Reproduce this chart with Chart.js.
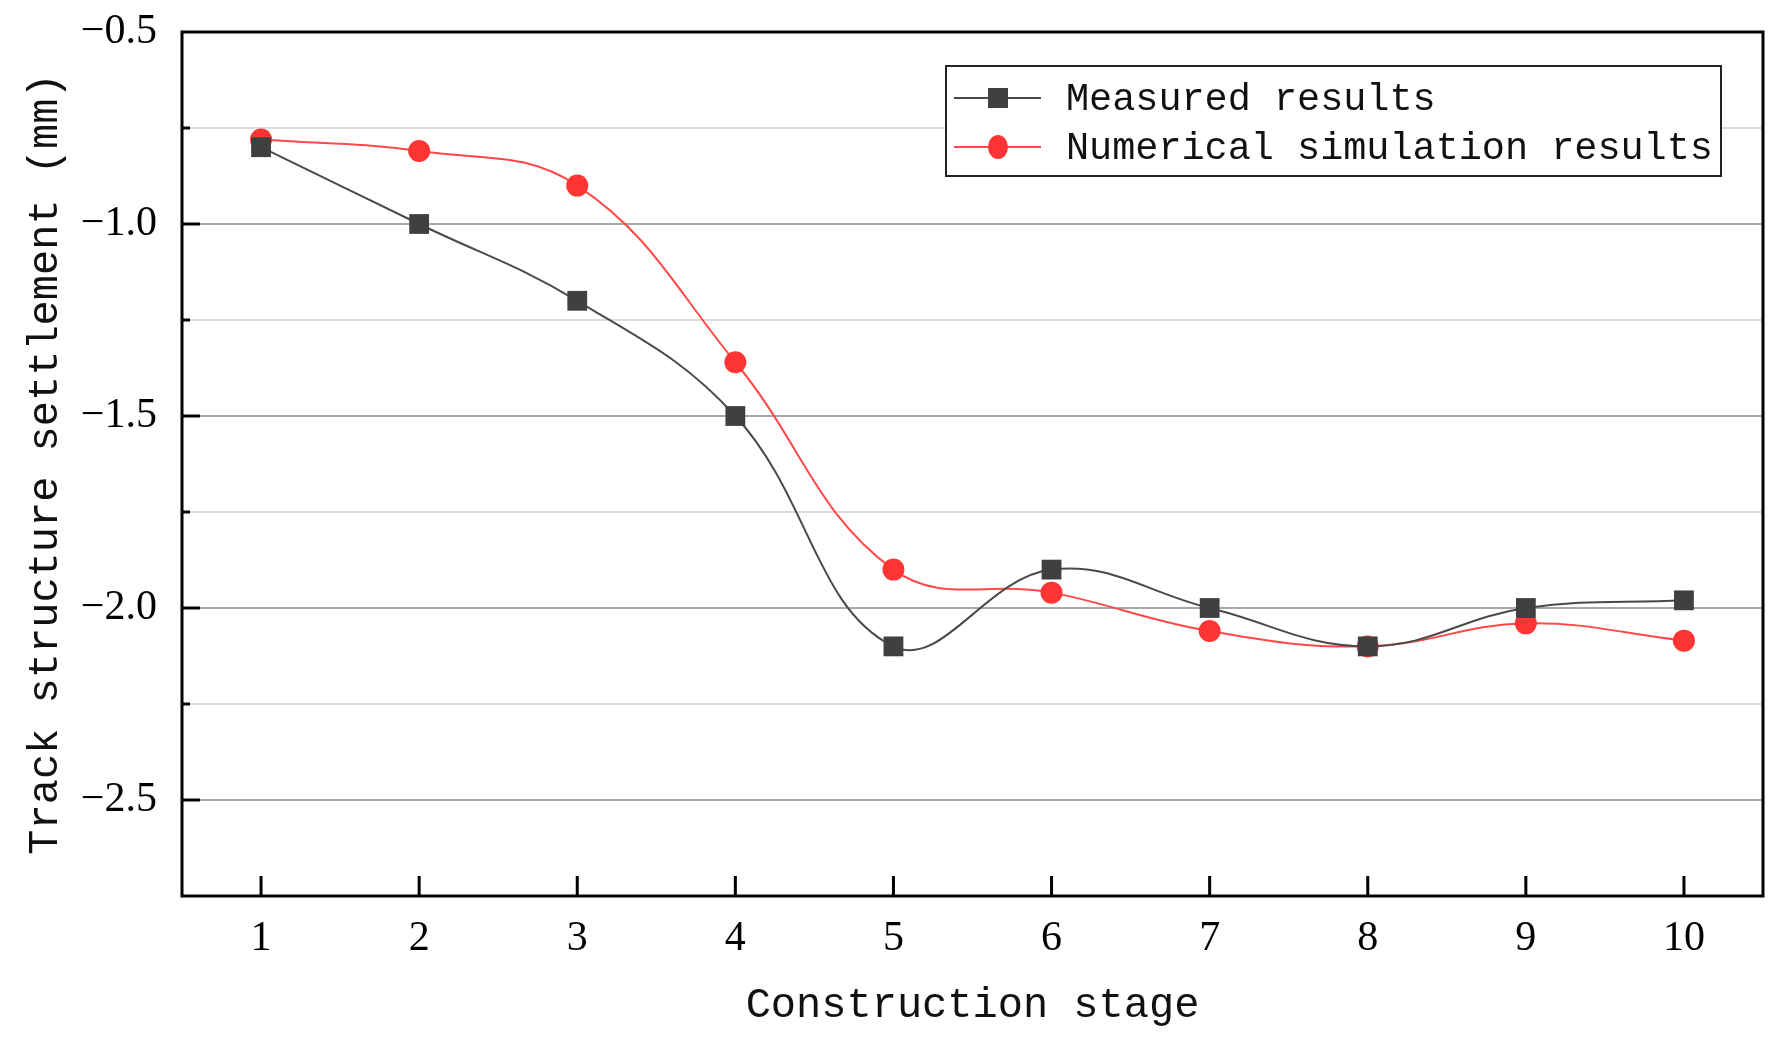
<!DOCTYPE html>
<html><head><meta charset="utf-8">
<script src="https://cdn.jsdelivr.net/npm/chart.js@4.4.0/dist/chart.umd.min.js"></script>
<style>html,body{margin:0;padding:0;background:#fff;} #wrap{width:1784px;height:1045px;}</style>
</head><body><div id="wrap"><canvas id="c" width="1784" height="1045"></canvas></div>
<script>
const stages = [1, 2, 3, 4, 5, 6, 7, 8, 9, 10];
const measured = [-0.80, -1.00, -1.20, -1.50, -2.10, -1.90, -2.00, -2.10, -2.00, -1.98];
const simulated = [-0.78, -0.81, -0.90, -1.36, -1.90, -1.96, -2.06, -2.10, -2.04, -2.085];
const seriesNames = ['Measured results', 'Numerical simulation results'];
const yTickValues = [-2.75, -2.5, -2.25, -2.0, -1.75, -1.5, -1.25, -1.0, -0.75, -0.5];
const yLabelValues = [-2.5, -2.0, -1.5, -1.0, -0.5];
const xTitle = 'Construction stage';
const yTitle = 'Track structure settlement (mm)';

const isLabeled = v => yLabelValues.some(l => Math.abs(l - v) < 1e-9);
const fmt = v => (v < 0 ? '\u2212' : '') + Math.abs(v).toFixed(1);

const overlay = {
  id: 'overlay',
  afterDraw(chart) {
    const ctx = chart.ctx, a = chart.chartArea;
    const xs = chart.scales.x, ys = chart.scales.y;
    ctx.save();
    // inward ticks
    ctx.strokeStyle = '#000'; ctx.lineWidth = 3;
    ctx.beginPath();
    stages.forEach(v => { const px = xs.getPixelForValue(v); ctx.moveTo(px, a.bottom); ctx.lineTo(px, a.bottom - 20); });
    yTickValues.forEach(v => {
      if (v <= ys.min || v >= ys.max) return;
      const py = ys.getPixelForValue(v);
      ctx.moveTo(a.left, py); ctx.lineTo(a.left + (isLabeled(v) ? 18 : 8), py);
    });
    ctx.stroke();
    // frame
    ctx.lineWidth = 3;
    ctx.strokeRect(a.left, a.top, a.right - a.left, a.bottom - a.top);
    // legend
    const bx = 946, by = 66, bw = 775, bh = 110;
    ctx.fillStyle = '#fff'; ctx.fillRect(bx, by, bw, bh);
    ctx.strokeStyle = '#222'; ctx.lineWidth = 2; ctx.strokeRect(bx, by, bw, bh);
    const rows = [98, 147];
    chart.data.datasets.forEach((ds, i) => {
      const y = rows[i];
      ctx.strokeStyle = ds.borderColor; ctx.lineWidth = 2;
      ctx.beginPath(); ctx.moveTo(954, y); ctx.lineTo(1041, y); ctx.stroke();
      ctx.fillStyle = ds.pointBackgroundColor;
      if (ds.pointStyle === 'rect') { ctx.fillRect(998 - 10, y - 10, 20, 20); }
      else { ctx.beginPath(); ctx.ellipse(998, y, 10, 12, 0, 0, Math.PI * 2); ctx.fill(); }
      ctx.fillStyle = '#111'; ctx.font = '38.5px "Liberation Mono", monospace';
      ctx.textBaseline = 'middle'; ctx.textAlign = 'left';
      ctx.fillText(ds.label, 1066, y + 2);
    });
    ctx.restore();
  }
};

new Chart(document.getElementById('c'), {
  type: 'line',
  data: {
    datasets: [
      { label: seriesNames[0], data: stages.map((s, i) => ({ x: s, y: measured[i] })),
        borderColor: '#4a4a4a', borderWidth: 2, pointStyle: 'rect', pointRadius: 14,
        pointBackgroundColor: '#404040', pointBorderWidth: 0, tension: 0.4 },
      { label: seriesNames[1], data: stages.map((s, i) => ({ x: s, y: simulated[i] })),
        borderColor: '#ff4848', borderWidth: 2, pointStyle: 'circle', pointRadius: 11,
        pointBackgroundColor: '#ff3535', pointBorderWidth: 0, tension: 0.4 }
    ]
  },
  options: {
    responsive: false, animation: false, devicePixelRatio: 1,
    layout: { padding: { left: 0, right: 21, top: 32, bottom: 0 } },
    plugins: { legend: { display: false }, tooltip: { enabled: false } },
    scales: {
      x: {
        type: 'linear', min: 0.5, max: 10.5,
        afterBuildTicks: s => { s.ticks = stages.map(v => ({ value: v })); },
        afterFit: s => { s.height = 149; s.paddingLeft = 0; s.paddingRight = 0; },
        grid: { display: false, drawTicks: false }, border: { display: false },
        ticks: { padding: 18, color: '#000', font: { family: '"Liberation Serif", serif', size: 42, lineHeight: 1.2 },
                 callback: v => String(v) },
        title: { display: true, text: xTitle, color: '#111', padding: { top: 0, bottom: 14 },
                 font: { family: '"Liberation Mono", monospace', size: 42, lineHeight: 1.2 } }
      },
      y: {
        type: 'linear', min: -2.75, max: -0.5,
        afterBuildTicks: s => { s.ticks = yTickValues.map(v => ({ value: v })); },
        afterFit: s => { s.width = 182; s.paddingTop = 0; s.paddingBottom = 0; },
        grid: { drawTicks: false, lineWidth: 2,
                color: c => isLabeled(c.tick.value) ? '#a8a8a8' : '#dcdcdc' },
        border: { display: false },
        ticks: { padding: 25, color: '#000', font: { family: '"Liberation Serif", serif', size: 42, lineHeight: 1.2 },
                 callback: v => isLabeled(v) ? fmt(v) : '' },
        title: { display: true, text: yTitle, color: '#111', padding: { top: 21, bottom: 0 },
                 font: { family: '"Liberation Mono", monospace', size: 42, lineHeight: 1.2 } }
      }
    }
  },
  plugins: [overlay]
});
</script></body></html>
